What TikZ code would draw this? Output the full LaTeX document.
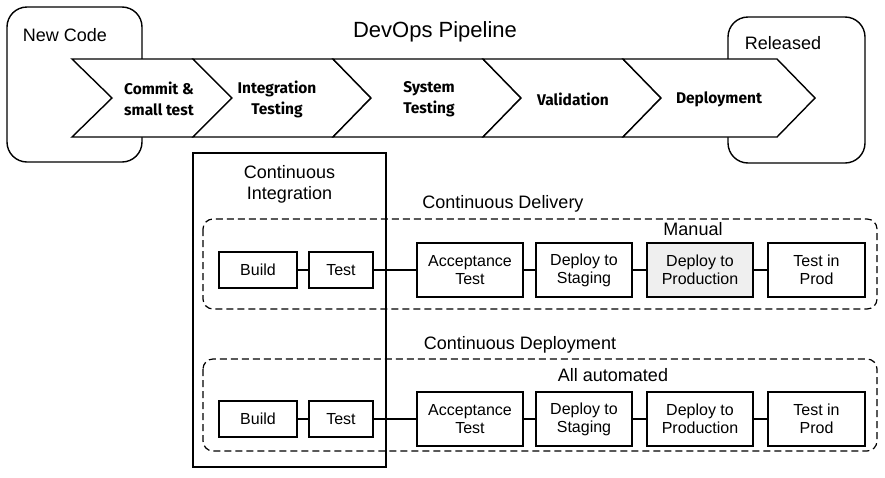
\documentclass[tikz,border=0pt]{standalone}
\usepackage{fontspec}
\setmainfont{Liberation Sans}
\newfontfamily\chevfont{Fira Sans}
\begin{document}
\begin{tikzpicture}[x=1pt,y=-1pt,
  every node/.style={inner sep=0pt, outer sep=0pt},
  frame/.style={draw, line width=1.4pt, rounded corners=20pt},
  chev/.style={draw, fill=white, line width=1.4pt, line join=miter},
  chevtext/.style={font=\chevfont\bfseries\fontsize{15.5}{21}\selectfont, align=center},
  lbl/.style={font=\fontsize{18}{21}\selectfont, align=center},
  stage/.style={draw, line width=1.3pt, fill=white, align=center, font=\fontsize{16}{18}\selectfont, minimum height=54pt},
  small/.style={stage, minimum height=36pt},
  grp/.style={draw, line width=1.2pt, dash pattern=on 7pt off 4pt, rounded corners=10pt},
  link/.style={line width=1.3pt}
]
\useasboundingbox (0,0) rectangle (885,477);

% outer rounded frames
\draw[frame] (7,7) rectangle (142,162);
\draw[frame] (728,17) rectangle (865,163);
\node[lbl, font=\fontsize{22}{26}\selectfont] (title) at (435,32) {DevOps Pipeline};
\node[lbl] (newcode) at (65,35) {New Code};
\node[lbl] (released) at (783,43) {Released};

% chevrons
\draw[chev] (72,59) -- (193,59) -- (232,98) -- (193,137) -- (72,137) -- (112,98) -- cycle;
\draw[chev] (193,59) -- (333,59) -- (371,98) -- (333,137) -- (193,137) -- (232,98) -- cycle;
\draw[chev] (333,59) -- (483,59) -- (521,98) -- (483,137) -- (333,137) -- (371,98) -- cycle;
\draw[chev] (483,59) -- (623,59) -- (661,98) -- (623,137) -- (483,137) -- (521,98) -- cycle;
\draw[chev] (623,59) -- (777,59) -- (815,98) -- (777,137) -- (623,137) -- (661,98) -- cycle;
\node[chevtext] (c1) at (159,99) {Commit \&\\small test};
\node[chevtext] (c2) at (277,99) {Integration\\Testing};
\node[chevtext] (c3) at (429,99) {System\\Testing};
\node[chevtext] (c4) at (573,99) {Validation};
\node[chevtext] (c5) at (719,99) {Deployment};

% Continuous Integration box
\draw[line width=1.4pt] (193,153) rectangle (386,467);
\node[lbl] (ci) at (289.5,184) {Continuous\\Integration};

% Continuous Delivery group
\node[lbl] (cdl) at (503,204) {Continuous Delivery};
\draw[grp] (203,219) rectangle (877,309);
\node[lbl] (manual) at (693,229) {Manual};
\node[small, minimum width=78pt] (b1) at (258,270) {Build};
\node[small, minimum width=64pt] (t1) at (341,270) {Test};
\node[stage, minimum width=106pt] (a1) at (470,270) {Acceptance\\Test};
\node[stage, minimum width=96pt] (s1) at (584,270) {Deploy to\\Staging};
\node[stage, minimum width=106pt, fill={rgb,255:red,239;green,239;blue,239}] (p1) at (700,270) {Deploy to\\Production};
\node[stage, minimum width=97pt] (r1) at (816.5,270) {Test in\\Prod};
\draw[link] (b1) -- (t1);
\draw[link] (t1) -- (a1);
\draw[link] (a1) -- (s1);
\draw[link] (s1) -- (p1);
\draw[link] (p1) -- (r1);

% Continuous Deployment group
\node[lbl] (cdp) at (520,345) {Continuous Deployment};
\draw[grp] (203,359) rectangle (877,451);
\node[lbl] (auto) at (613,375) {All automated};
\node[small, minimum width=78pt] (b2) at (258,419) {Build};
\node[small, minimum width=64pt] (t2) at (341,419) {Test};
\node[stage, minimum width=106pt] (a2) at (470,419) {Acceptance\\Test};
\node[stage, minimum width=96pt] (s2) at (584,419) {Deploy to\\Staging};
\node[stage, minimum width=106pt] (p2) at (700,419) {Deploy to\\Production};
\node[stage, minimum width=97pt] (r2) at (816.5,419) {Test in\\Prod};
\draw[link] (b2) -- (t2);
\draw[link] (t2) -- (a2);
\draw[link] (a2) -- (s2);
\draw[link] (s2) -- (p2);
\draw[link] (p2) -- (r2);
\end{tikzpicture}
\end{document}
